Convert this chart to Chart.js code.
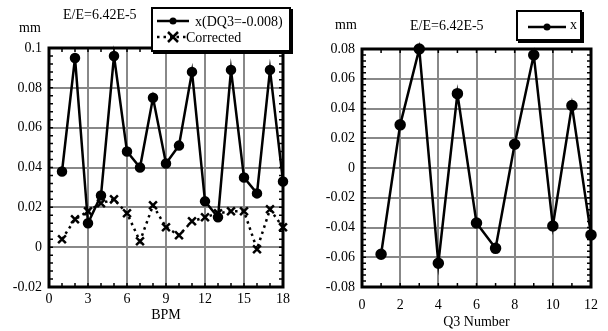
<!DOCTYPE html>
<html>
<head>
<meta charset="utf-8">
<script src="https://cdn.jsdelivr.net/npm/chart.js@4"></script>
<style>
  body { margin: 0; background: #fff; width: 608px; height: 331px; position: relative; overflow: hidden; font-family: "Liberation Serif", serif; }
  .box { position: absolute; top: 0; width: 304px; height: 331px; }
  .lbl { position: absolute; font-size: 14px; color: #000; white-space: nowrap; line-height: 1; }
  .leg { position: absolute; border: 2px solid #000; box-shadow: 2px 2px 0 #000; background: #fff; }
  .leg svg { position: absolute; }
</style>
</head>
<body>
<div class="box" style="left:0"><canvas id="left" width="304" height="331"></canvas></div>
<div class="box" style="left:304px"><canvas id="right" width="304" height="331"></canvas></div>

<div class="lbl" style="left:19px;top:21px">mm</div>
<div class="lbl" style="left:63px;top:8px">E/E=6.42E-5</div>
<div class="leg" style="left:151px;top:7px;width:136px;height:41px">
  <svg width="40" height="40" style="left:2px;top:2px">
    <line x1="2" y1="10" x2="34" y2="10" stroke="#000" stroke-width="2.5"/>
    <circle cx="18" cy="10" r="3.5" fill="#000"/>
    <line x1="2" y1="26" x2="34" y2="26" stroke="#000" stroke-width="2.5" stroke-dasharray="2.5,4"/>
    <path d="M13 21 L23 31 M23 21 L13 31" stroke="#000" stroke-width="2.5"/>
  </svg>
  <div class="lbl" style="left:42px;top:6px">x(DQ3=-0.008)</div>
  <div class="lbl" style="left:33px;top:22px">Corrected</div>
</div>

<div class="lbl" style="left:335px;top:18px">mm</div>
<div class="lbl" style="left:410px;top:19px">E/E=6.42E-5</div>
<div class="leg" style="left:516px;top:10px;width:62px;height:27px">
  <svg width="44" height="24" style="left:8px;top:2px">
    <line x1="2" y1="13" x2="40" y2="13" stroke="#000" stroke-width="2.5"/>
    <circle cx="21" cy="13" r="3.5" fill="#000"/>
  </svg>
  <div class="lbl" style="left:52px;top:6px">x</div>
</div>

<script>
// left panel: orbit at each BPM
const bpm = [1, 2, 3, 4, 5, 6, 7, 8, 9, 10, 11, 12, 13, 14, 15, 16, 17, 18];
const xDq3 = [0.038, 0.095, 0.012, 0.026, 0.096, 0.048, 0.040, 0.075, 0.042, 0.051,
              0.088, 0.023, 0.015, 0.089, 0.035, 0.027, 0.089, 0.033];
const corrected = [0.004, 0.014, 0.018, 0.022, 0.024, 0.017, 0.003, 0.021, 0.010, 0.006,
                   0.013, 0.015, 0.017, 0.018, 0.018, -0.001, 0.019, 0.010];
const leftXTicks = [0, 3, 6, 9, 12, 15, 18];
const leftYTicks = [-0.02, 0, 0.02, 0.04, 0.06, 0.08, 0.1];

// right panel: per Q3 magnet
const q3Num = [1, 2, 3, 4, 5, 6, 7, 8, 9, 10, 11, 12];
const q3X = [-0.058, 0.029, 0.080, -0.064, 0.050, -0.037, -0.054, 0.016, 0.076, -0.039, 0.042, -0.045];
const rightXTicks = [0, 2, 4, 6, 8, 10, 12];
const rightYTicks = [-0.08, -0.06, -0.04, -0.02, 0, 0.02, 0.04, 0.06, 0.08];

const serif = { family: "Liberation Serif", size: 14 };
Chart.defaults.color = '#000';

const frame = {
  id: 'frame',
  beforeDatasetsDraw(chart, args, opts) {
    const { ctx, chartArea: a, scales } = chart;
    ctx.save();
    ctx.strokeStyle = '#000';
    ctx.lineWidth = 1.5;
    ctx.beginPath();
    for (let v = scales.x.min; v <= scales.x.max + 1e-9; v += opts.xStep) {
      const px = scales.x.getPixelForValue(v);
      ctx.moveTo(px, a.bottom); ctx.lineTo(px, a.bottom - 4);
      ctx.moveTo(px, a.top); ctx.lineTo(px, a.top + 4);
    }
    for (let v = scales.y.min; v <= scales.y.max + 1e-9; v += opts.yStep) {
      const py = scales.y.getPixelForValue(v);
      ctx.moveTo(a.left, py); ctx.lineTo(a.left + 4, py);
      ctx.moveTo(a.right, py); ctx.lineTo(a.right - 4, py);
    }
    ctx.stroke();
    ctx.lineWidth = 3;
    ctx.strokeRect(a.left, a.top, a.right - a.left, a.bottom - a.top);
    ctx.restore();
  }
};

function axes(xTicks, yTicks, yWidth, xTitle, xPad, titlePad) {
  return {
    x: {
      type: 'linear', min: xTicks[0], max: xTicks[xTicks.length - 1],
      afterBuildTicks: s => { s.ticks = xTicks.map(v => ({ value: v })); },
      afterFit: s => { s.height = 44; },
      grid: { color: '#888', lineWidth: 2, drawTicks: false },
      border: { display: false },
      ticks: { font: serif, padding: xPad, maxRotation: 0 },
      title: { display: true, text: xTitle, font: serif, padding: { top: 0, bottom: titlePad } }
    },
    y: {
      min: yTicks[0], max: yTicks[yTicks.length - 1],
      afterBuildTicks: s => { s.ticks = yTicks.map(v => ({ value: v })); },
      afterFit: s => { s.width = yWidth; },
      grid: { color: '#888', lineWidth: 2, drawTicks: false },
      border: { display: false },
      ticks: { font: serif, padding: 7, callback: v => String(+v.toFixed(3)) }
    }
  };
}

new Chart(document.getElementById('left'), {
  type: 'line',
  data: {
    datasets: [
      {
        label: 'x(DQ3=-0.008)',
        data: bpm.map((b, i) => ({ x: b, y: xDq3[i] })),
        borderColor: '#000', backgroundColor: '#000', borderWidth: 2.5,
        pointRadius: 4, pointStyle: 'circle', tension: 0, clip: false
      },
      {
        label: 'Corrected',
        data: bpm.map((b, i) => ({ x: b, y: corrected[i] })),
        borderColor: '#000', backgroundColor: '#000', borderWidth: 2.5, borderDash: [2.5, 4],
        pointRadius: 5.5, pointBorderWidth: 2.5, pointStyle: 'crossRot', tension: 0, clip: false
      }
    ]
  },
  options: {
    responsive: false, animation: false,
    layout: { padding: { top: 48, right: 21, left: 0, bottom: 0 } },
    plugins: { legend: { display: false }, tooltip: { enabled: false }, frame: { xStep: 1, yStep: 0.004 } },
    scales: axes(leftXTicks, leftYTicks, 49, 'BPM', 4, 7)
  },
  plugins: [frame]
});

new Chart(document.getElementById('right'), {
  type: 'line',
  data: {
    datasets: [{
      label: 'x',
      data: q3Num.map((q, i) => ({ x: q, y: q3X[i] })),
      borderColor: '#000', backgroundColor: '#000', borderWidth: 2.5,
      pointRadius: 4.5, pointStyle: 'circle', tension: 0, clip: false
    }]
  },
  options: {
    responsive: false, animation: false,
    layout: { padding: { top: 49, right: 7, left: 0, bottom: 0 } },
    plugins: { legend: { display: false }, tooltip: { enabled: false }, frame: { xStep: 1, yStep: 0.004 } },
    scales: axes(rightXTicks, rightYTicks, 58, 'Q3 Number', 10, 0)
  },
  plugins: [frame]
});
</script>
</body>
</html>
